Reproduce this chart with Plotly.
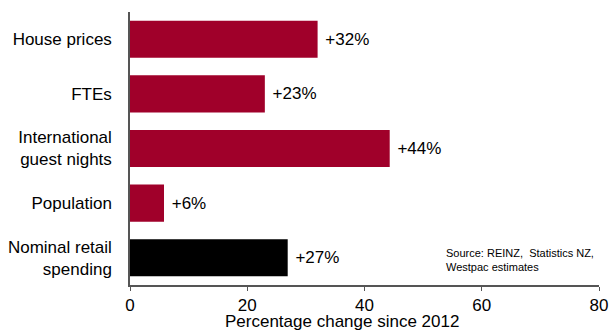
import plotly.graph_objects as go

categories = ["House prices", "FTEs", "International<br>guest nights", "Population", "Nominal retail<br>spending"]
values = [32, 23, 44.3, 5.8, 26.9]
labels = [" +32%", " +23%", " +44%", " +6%", " +27%"]
colors = ["#A0002A", "#A0002A", "#A0002A", "#A0002A", "#000000"]
x_ticks = [0, 20, 40, 60, 80]

FONT = "Liberation Sans, Arial, sans-serif"

fig = go.Figure()
fig.add_trace(go.Bar(
    y=categories, x=values, orientation="h",
    marker=dict(color=colors, line=dict(width=0)),
    text=labels, textposition="outside", cliponaxis=False,
    textfont=dict(family=FONT, size=17, color="#000000"),
))

fig.update_layout(
    width=609, height=333,
    margin=dict(l=130, r=10, t=12, b=48, autoexpand=False),
    paper_bgcolor="white", plot_bgcolor="white",
    showlegend=False, bargap=0.32,
    font=dict(family=FONT, size=17, color="#000000"),
    xaxis=dict(
        range=[0, 80], tickvals=x_ticks, showgrid=False, zeroline=False,
        showline=True, linecolor="#555555", linewidth=1.5,
        ticks="outside", ticklen=4, tickcolor="#555555", tickwidth=1,
        tickfont=dict(size=17), automargin=False,
    ),
    yaxis=dict(
        autorange="reversed", showgrid=False, zeroline=False,
        showline=True, linecolor="#555555", linewidth=1.5,
        ticks="", ticklabelstandoff=13, tickfont=dict(size=17), automargin=False,
    ),
    annotations=[
        dict(text="Percentage change since 2012", xref="paper", yref="paper",
             x=0.452, y=0, yshift=-36, xanchor="center", yanchor="middle",
             showarrow=False, borderpad=0, font=dict(size=17)),
        dict(text="Source: REINZ,  Statistics NZ,<br>Westpac estimates", xref="x", yref="paper",
             x=53.6, y=0.092, xanchor="left", yanchor="middle", align="left",
             showarrow=False, font=dict(size=11)),
    ],
)

fig.write_html("out.html", config={"displayModeBar": False},
               post_script="document.body.style.margin='0';")
